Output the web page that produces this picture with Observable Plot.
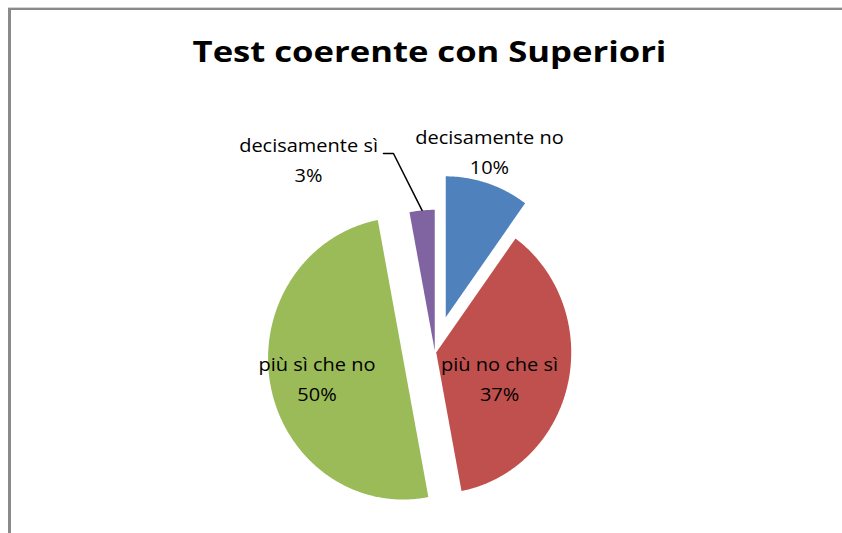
<!DOCTYPE html>
<html><head><meta charset="utf-8">
<script src="https://cdn.jsdelivr.net/npm/d3@7"></script>
<script src="https://cdn.jsdelivr.net/npm/@observablehq/plot@0.6"></script>
<style>
html,body{margin:0;padding:0;background:#fff;overflow:hidden;}
#wrap{position:relative;width:842px;height:533px;overflow:hidden;}
#border{position:absolute;left:8px;top:8px;width:900px;height:600px;border-top:2px solid #8a8a8a;border-left:3px solid #8a8a8a;box-shadow:0 -1px 0 #d4d4d4;pointer-events:none;}
#chart{position:absolute;left:0;top:0;}
</style></head><body>
<div id="wrap"><div id="chart"></div><div id="border"></div></div>
<script>
// ---- data ----
const title = "Test coerente con Superiori";
const categories = ["decisamente no", "più no che sì", "più sì che no", "decisamente sì"];
const percentages = [10, 37, 50, 3];
// ---- style / layout ----
const colors = ["#4F81BD", "#C0504D", "#9BBB59", "#8064A2"];
const explode = [0.26, 0.01, 0.24, 0.01];               // in pie radii
const labelAt = [[0.404, 1.264], [0.479, -0.346], [-0.873, -0.346], [-0.936, 1.204]]; // pie units
const leaderFrom = 3;                                      // slice with a leader line
const leaderKnee = [[-0.381, 1.409], [-0.307, 1.409]];
const W = 842, H = 533, cx = 434.4, cy = 351.7, rx = 135, ry = 141;
const titleStretch = 1.236, labelStretch = 1.11;

const total = d3.sum(percentages);
let acc = 0;
const slices = categories.map((c, i) => {
  const a0 = acc / total * 2 * Math.PI; acc += percentages[i];
  const a1 = acc / total * 2 * Math.PI; const mid = (a0 + a1) / 2;
  return {c, i, a0, a1, mid, ox: explode[i] * Math.sin(mid), oy: explode[i] * Math.cos(mid)};
});
const pts = [];
for (const s of slices) {
  pts.push({c: s.c, x: s.ox, y: s.oy});
  const n = Math.max(2, Math.ceil((s.a1 - s.a0) / (Math.PI / 360)));
  for (let k = 0; k <= n; k++) {
    const a = s.a0 + (s.a1 - s.a0) * k / n;
    pts.push({c: s.c, x: s.ox + Math.sin(a), y: s.oy + Math.cos(a)});
  }
}
const labels = slices.map(s => ({c: s.c, x: labelAt[s.i][0], y: labelAt[s.i][1], text: s.c + "\n" + percentages[s.i] + "%"}));
const ls = slices[leaderFrom];
const leader = [...leaderKnee.map(([x, y]) => ({x, y})), {x: ls.ox + Math.sin(ls.mid), y: ls.oy + Math.cos(ls.mid)}];

const chart = Plot.plot({
  width: W, height: H, margin: 0,
  style: {background: "transparent"},
  x: {domain: [-cx / rx, (W - cx) / rx], range: [0, W], axis: null},
  y: {domain: [-(H - cy) / ry, cy / ry], range: [H, 0], axis: null},
  color: {domain: categories, range: colors},
  marks: [
    Plot.line(pts, {x: "x", y: "y", z: "c", fill: "c", stroke: "none", curve: "linear-closed"}),
    Plot.line(leader, {x: "x", y: "y", stroke: "#000", strokeWidth: 1.5}),
    Plot.text(labels, {x: "x", y: "y", text: "text", lineAnchor: "bottom", lineHeight: 1.69, fontSize: 18, fontFamily: "Open Sans", fill: "#000", className: "lbl"}),
    Plot.text([title], {text: d => d, frameAnchor: "top", dx: 8, dy: 61, lineAnchor: "bottom", fontSize: 28, fontWeight: "bold", fontFamily: "Open Sans", fill: "#000", className: "ttl"})
  ]
});
document.getElementById("chart").appendChild(chart);
// widen glyphs (the reference text is horizontally stretched)
function stretch(el, k) {
  const w = el.getComputedTextLength();
  el.setAttribute("textLength", (w * k).toFixed(1));
  el.setAttribute("lengthAdjust", "spacingAndGlyphs");
}
d3.select(chart).selectAll(".lbl text tspan").each(function() { stretch(this, labelStretch); });
d3.select(chart).selectAll(".ttl text").each(function() { stretch(this, titleStretch); });
</script>
</body></html>
